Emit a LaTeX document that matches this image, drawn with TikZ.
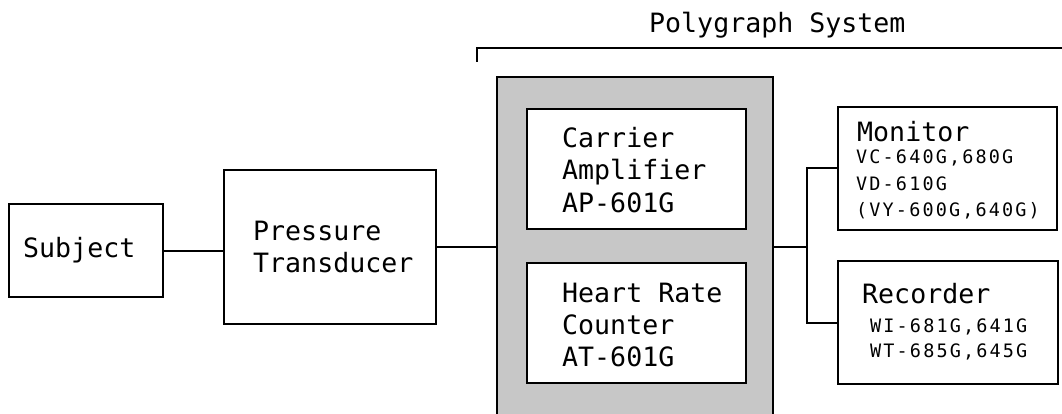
\documentclass[tikz,border=0pt]{standalone}
\usepackage{fontspec}
\newfontfamily\bigf{DejaVu Sans Mono}
\newfontfamily\smallf[LetterSpace=11.5]{DejaVu Sans Mono}
\begin{document}
\begin{tikzpicture}[x=1pt,y=-1pt,
  box/.style={draw=black,line width=2pt,rectangle,inner sep=0pt,fill=white},
  conn/.style={draw=black,line width=2pt},
  big/.style={anchor=base west,inner sep=0pt,font=\bigf\fontsize{26.6}{32}\selectfont},
  small/.style={anchor=base west,inner sep=0pt,font=\smallf\fontsize{18.5}{26}\selectfont}]
\useasboundingbox (0,0) rectangle (1062,414);
\clip (0,0) rectangle (1062,414);
% boxes
\node[box,minimum width=154pt,minimum height=93pt] (subj) at (86,250.5) {};
\node[box,minimum width=212pt,minimum height=154pt] (pt) at (330,247) {};
\node[draw=black,line width=2pt,fill=black!22,minimum width=276pt,minimum height=363pt,inner sep=0pt] (sys) at (635,258.5) {};
\node[box,minimum width=219pt,minimum height=120pt] (car) at (636.5,169) {};
\node[box,minimum width=219pt,minimum height=120pt] (hr) at (636.5,323) {};
\node[box,minimum width=219pt,minimum height=123pt] (mon) at (947.5,168.5) {};
\node[box,minimum width=220pt,minimum height=123pt] (rec) at (948,322.5) {};
% connectors
\coordinate (j) at (807,247);
\coordinate (bl) at (477,62);
\coordinate (br) at (1062,48);
\draw[conn] (subj.east) -- (subj.east -| pt.west);
\draw[conn] (pt.east) -- (pt.east -| sys.west);
\draw[conn] (pt.east -| sys.east) -- (j);
\draw[conn] (mon.west) -| (j) |- (rec.west);
\draw[line width=1.8pt] (bl) |- (br);
% texts
\node[big] (tpoly) at (649,33) {Polygraph System};
\node[big] (tsubj) at (23,257) {Subject};
\node[big] (tpt1) at (253,240) {Pressure};
\node[big] (tpt2) at (253,272) {Transducer};
\node[big] (tca1) at (562,148) {Carrier};
\node[big] (tca2) at (562,180) {Amplifier};
\node[big] (tca3) at (562,212) {AP-601G};
\node[big] (thr1) at (562,302) {Heart Rate};
\node[big] (thr2) at (562,334) {Counter};
\node[big] (thr3) at (562,366) {AT-601G};
\node[big] (tmon) at (857,142) {Monitor};
\node[small] (tm1) at (856,164) {VC-640G,680G};
\node[small] (tm2) at (856,190) {VD-610G};
\node[small] (tm3) at (856,216) {(VY-600G,640G)};
\node[big] (trec) at (862,303) {Recorder};
\node[small] (tr1) at (870,332) {WI-681G,641G};
\node[small] (tr2) at (870,357) {WT-685G,645G};
\end{tikzpicture}
\end{document}
